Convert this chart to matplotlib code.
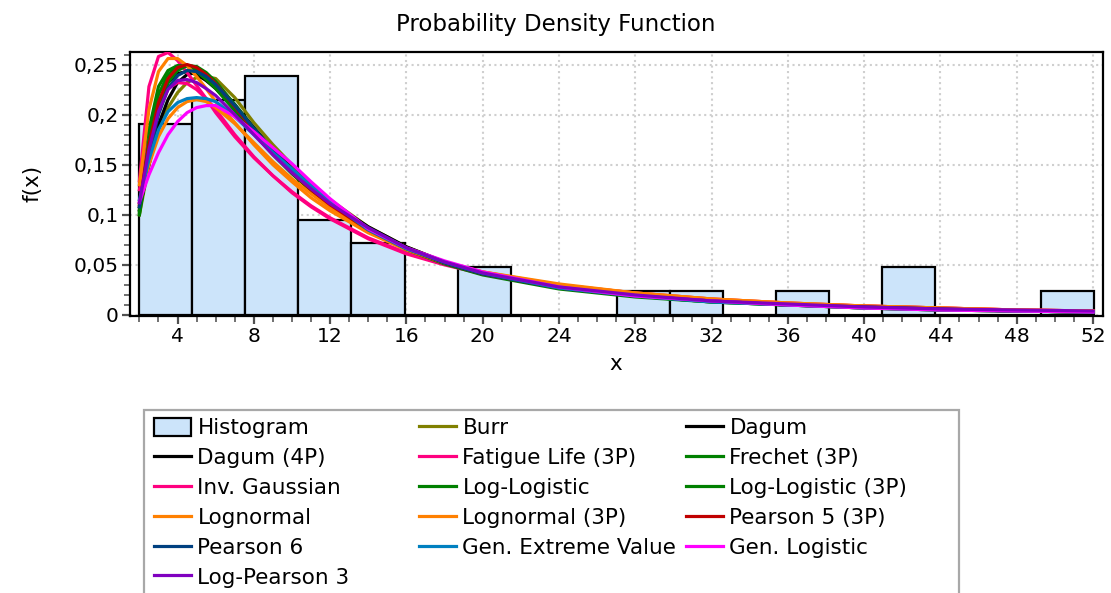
import numpy as np
import matplotlib
matplotlib.use("Agg")
import matplotlib.pyplot as plt
from matplotlib.ticker import MultipleLocator, FixedLocator, FuncFormatter
from matplotlib.lines import Line2D
from matplotlib.patches import Patch, Rectangle

# ---------------------------------------------------------------------------
# data

# histogram: 42 observations, 18 classes starting at 2.0
bin_start = 2.0
bin_width = 2.78
counts = [8, 9, 10, 4, 3, 0, 2, 0, 0, 1, 1, 0, 1, 0, 2, 0, 0, 1]

# x where the fitted densities were read
x_pts = [2, 2.5, 3, 3.5, 4, 4.5, 5, 5.5, 6, 7, 8, 9, 10, 11, 12, 14, 16, 18, 20,
         24, 28, 32, 36, 40, 44, 48, 52]

burr = [0.100, 0.150, 0.185, 0.207, 0.222, 0.232, 0.237, 0.238, 0.236, 0.217, 0.192, 0.170, 0.150,
        0.131, 0.115, 0.088, 0.068, 0.053, 0.042, 0.027, 0.019, 0.013, 0.010, 0.007, 0.005, 0.004, 0.003]
dagum = [0.108, 0.170, 0.210, 0.232, 0.241, 0.243, 0.240, 0.234, 0.226, 0.206, 0.184, 0.163, 0.144,
         0.127, 0.112, 0.087, 0.067, 0.053, 0.042, 0.028, 0.019, 0.014, 0.010, 0.008, 0.006, 0.004, 0.003]
dagum_4p = [0.105, 0.150, 0.190, 0.215, 0.232, 0.240, 0.242, 0.238, 0.231, 0.210, 0.187, 0.165, 0.146,
            0.128, 0.113, 0.088, 0.068, 0.053, 0.042, 0.028, 0.019, 0.014, 0.010, 0.008, 0.006, 0.004, 0.003]
fatigue_3p = [0.134, 0.228, 0.258, 0.262, 0.254, 0.242, 0.229, 0.216, 0.202, 0.178, 0.157, 0.139, 0.122,
              0.108, 0.096, 0.076, 0.061, 0.050, 0.041, 0.029, 0.021, 0.015, 0.011, 0.009, 0.007, 0.005, 0.004]
frechet_3p = [0.102, 0.185, 0.228, 0.244, 0.249, 0.248, 0.243, 0.235, 0.226, 0.204, 0.181, 0.160, 0.141,
              0.124, 0.110, 0.086, 0.066, 0.052, 0.041, 0.027, 0.019, 0.014, 0.010, 0.008, 0.006, 0.004, 0.003]
inv_gauss = [0.125, 0.175, 0.208, 0.226, 0.232, 0.231, 0.225, 0.216, 0.205, 0.180, 0.158, 0.139, 0.123,
             0.109, 0.097, 0.077, 0.062, 0.051, 0.042, 0.030, 0.022, 0.016, 0.012, 0.009, 0.007, 0.005, 0.004]
loglogistic = [0.104, 0.175, 0.220, 0.240, 0.248, 0.249, 0.245, 0.238, 0.229, 0.207, 0.184, 0.162, 0.143,
               0.125, 0.110, 0.085, 0.065, 0.051, 0.040, 0.026, 0.018, 0.013, 0.010, 0.007, 0.005, 0.004, 0.003]
loglogistic_3p = [0.100, 0.160, 0.205, 0.232, 0.244, 0.249, 0.248, 0.242, 0.233, 0.210, 0.186, 0.164, 0.144,
                  0.126, 0.111, 0.086, 0.066, 0.052, 0.041, 0.027, 0.019, 0.013, 0.010, 0.007, 0.005, 0.004, 0.003]
lognormal = [0.130, 0.205, 0.243, 0.256, 0.256, 0.249, 0.238, 0.226, 0.213, 0.192, 0.170, 0.150, 0.133,
             0.117, 0.104, 0.082, 0.065, 0.052, 0.043, 0.031, 0.022, 0.016, 0.012, 0.009, 0.007, 0.005, 0.004]
lognormal_3p = [0.112, 0.150, 0.178, 0.196, 0.207, 0.213, 0.215, 0.213, 0.207, 0.191, 0.172, 0.153, 0.136,
                0.121, 0.107, 0.083, 0.066, 0.053, 0.043, 0.030, 0.022, 0.016, 0.012, 0.009, 0.007, 0.005, 0.004]
pearson5_3p = [0.110, 0.170, 0.212, 0.236, 0.247, 0.250, 0.247, 0.240, 0.231, 0.208, 0.184, 0.162, 0.142,
               0.125, 0.110, 0.085, 0.066, 0.052, 0.041, 0.027, 0.019, 0.014, 0.010, 0.008, 0.006, 0.004, 0.003]
pearson6 = [0.108, 0.160, 0.200, 0.226, 0.239, 0.244, 0.243, 0.238, 0.230, 0.209, 0.186, 0.164, 0.145,
            0.127, 0.112, 0.087, 0.067, 0.052, 0.041, 0.027, 0.019, 0.014, 0.010, 0.008, 0.006, 0.004, 0.003]
gev = [0.115, 0.155, 0.185, 0.203, 0.212, 0.216, 0.217, 0.216, 0.213, 0.198, 0.180, 0.162, 0.146,
       0.129, 0.113, 0.085, 0.066, 0.053, 0.042, 0.027, 0.019, 0.013, 0.010, 0.007, 0.005, 0.004, 0.003]
gen_logistic = [0.113, 0.140, 0.162, 0.180, 0.193, 0.202, 0.207, 0.209, 0.209, 0.198, 0.183, 0.167, 0.151,
                0.133, 0.116, 0.086, 0.067, 0.054, 0.043, 0.028, 0.019, 0.014, 0.010, 0.007, 0.005, 0.004, 0.003]
log_pearson3 = [0.112, 0.165, 0.203, 0.225, 0.234, 0.235, 0.232, 0.226, 0.219, 0.200, 0.180, 0.160, 0.142,
                0.126, 0.111, 0.087, 0.067, 0.053, 0.042, 0.028, 0.020, 0.014, 0.011, 0.008, 0.006, 0.005, 0.004]

y_ticks = [0, 0.05, 0.1, 0.15, 0.2, 0.25]

# ---------------------------------------------------------------------------
plt.rcParams['font.family'] = ['DejaVu Sans']

W, H = 1111, 593
fig = plt.figure(figsize=(W / 100, H / 100), dpi=100)

def px(x0, y0, x1, y1):
    # pixel box -> figure fraction [left, bottom, width, height]
    return [x0 / W, 1 - y1 / H, (x1 - x0) / W, (y1 - y0) / H]

ax = fig.add_axes(px(129.5, 51.5, 1102.5, 316))

hist_face = '#cce4fa'
edges = bin_start + bin_width * np.arange(len(counts) + 1)
heights = np.array(counts) / sum(counts)
ax.bar(edges[:-1], heights, width=bin_width, align='edge', color=hist_face,
       edgecolor='black', linewidth=1.6, zorder=2)

curves = [
    ("Burr", burr, '#808000'),
    ("Dagum", dagum, '#000000'),
    ("Dagum (4P)", dagum_4p, '#000000'),
    ("Fatigue Life (3P)", fatigue_3p, '#ff0080'),
    ("Frechet (3P)", frechet_3p, '#008000'),
    ("Inv. Gaussian", inv_gauss, '#ff0080'),
    ("Log-Logistic", loglogistic, '#008000'),
    ("Log-Logistic (3P)", loglogistic_3p, '#008000'),
    ("Lognormal", lognormal, '#ff8000'),
    ("Lognormal (3P)", lognormal_3p, '#ff8000'),
    ("Pearson 5 (3P)", pearson5_3p, '#c00000'),
    ("Pearson 6", pearson6, '#004080'),
    ("Gen. Extreme Value", gev, '#0080c0'),
    ("Gen. Logistic", gen_logistic, '#ff00ff'),
    ("Log-Pearson 3", log_pearson3, '#8000c0'),
]
colors = {}
for name, vals, col in curves:
    ax.plot(x_pts, vals, color=col, lw=2.3, zorder=3, solid_joinstyle='round')
    colors[name] = col

ax.set_xlim(1.48, 52.5)
ax.set_ylim(-0.001, 0.263)
ax.set_xticks(np.arange(4, 53, 4))
ax.xaxis.set_minor_locator(MultipleLocator(1))
ax.yaxis.set_major_locator(FixedLocator(y_ticks))
ax.yaxis.set_minor_locator(MultipleLocator(0.01))
ax.yaxis.set_major_formatter(FuncFormatter(lambda v, p: ('%g' % round(v, 3)).replace('.', ',')))

ax.tick_params(which='major', length=6, width=1.6, color='#505050', labelsize=14.5, pad=2)
ax.tick_params(which='minor', length=4, width=1.4, color='#707070')
ax.grid(True, which='major', linestyle=':', color='#cfcfcf', linewidth=1.5)
ax.set_axisbelow(True)
for s in ax.spines.values():
    s.set_linewidth(1.6)
    s.set_color('black')

ax.set_xlabel('x', fontsize=15.5, labelpad=6)
ax.set_ylabel('f(x)', fontsize=15.5, labelpad=22)
fig.text(0.5, 1 - 24 / H, 'Probability Density Function', ha='center', va='center', fontsize=16.5)

# legend: grey frame + three columns at fixed positions
fig.patches.append(Rectangle((144 / W, -0.05), (959 - 144) / W, 0.05 + 1 - 410 / H,
                             transform=fig.transFigure, fill=False, edgecolor='#a8a8a8',
                             linewidth=1.6))

col1 = ["Histogram", "Dagum (4P)", "Inv. Gaussian", "Lognormal", "Pearson 6", "Log-Pearson 3"]
col2 = ["Burr", "Fatigue Life (3P)", "Log-Logistic", "Lognormal (3P)", "Gen. Extreme Value"]
col3 = ["Dagum", "Frechet (3P)", "Log-Logistic (3P)", "Pearson 5 (3P)", "Gen. Logistic"]

def handle(name):
    if name == "Histogram":
        return Patch(facecolor=hist_face, edgecolor='black', linewidth=1.6)
    return Line2D([], [], color=colors[name], lw=2.3)

for names, x0 in [(col1, 154), (col2, 419), (col3, 686)]:
    fig.legend([handle(n) for n in names], names, loc='upper left',
               bbox_to_anchor=(x0 / W, 1 - 418 / H), frameon=False, borderpad=0,
               borderaxespad=0, handlelength=1.72, handleheight=0.9, handletextpad=0.3,
               labelspacing=0.44, fontsize=15.5)

fig.savefig('out.png', dpi=100)
